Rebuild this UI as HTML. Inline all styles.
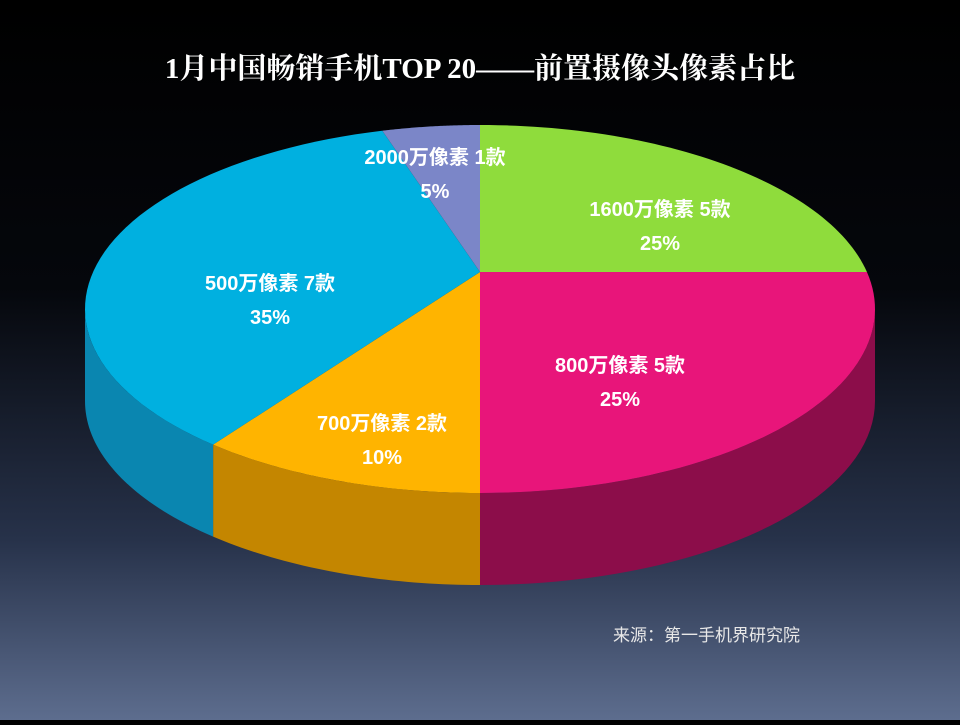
<!DOCTYPE html>
<html><head><meta charset="utf-8"><style>
body{margin:0;width:960px;height:720px;overflow:hidden;background:linear-gradient(#000 0%,#05070c 40%,#27324a 75%,#5d6d8e 100%);font-family:"Liberation Sans","Noto Sans CJK SC",sans-serif}
</style></head><body>
<svg id="c" width="960" height="720" xmlns="http://www.w3.org/2000/svg">
<text x="480" y="78" text-anchor="middle" fill="#fff" font-size="29" font-weight="bold" font-family="Liberation Serif, Noto Serif CJK SC, serif">1月中国畅销手机TOP 20——前置摄像头像素占比</text>
<g id="sides"></g><g id="tops"></g><g id="labels"></g>
<text x="613" y="641" fill="#e8e8e8" font-size="17">来源：第一手机界研究院</text>
</svg>
<script>
const categories=["1600万像素 5款","800万像素 5款","700万像素  2款","500万像素 7款","2000万像素 1款"];
const values=[25,25,10,35,5];
const pctLabels=["25%","25%","10%","35%","5%"];
const colors=["#8fdc3c","#e8157a","#ffb400","#00b0e0","#7b86c8"];
const sideColors=["#5f9a24","#8c0d4a","#c48600","#0a86b0","#4f5a96"];
const labelPos=[[660,216],[620,372],[382,430],[270,290],[435,164]];
const cx=480,cy=309,rx=395,ry=184,ax=480,ay=272,depth=92,k=0.47;
const ns="http://www.w3.org/2000/svg";
function R(phi){
  const dx=Math.cos(phi),dy=k*Math.sin(phi);
  const ox=(ax-cx)/rx,oy=(ay-cy)/ry,ux=dx/rx,uy=dy/ry;
  const A=ux*ux+uy*uy,B=2*(ox*ux+oy*uy),C=ox*ox+oy*oy-1;
  const s=(-B+Math.sqrt(B*B-4*A*C))/(2*A);
  return [ax+dx*s,ay+dy*s];
}
const E=t=>[cx+rx*Math.cos(t),cy+ry*Math.sin(t)];
const T=p=>Math.atan2((p[1]-cy)/ry,(p[0]-cx)/rx);
const total=values.reduce((a,b)=>a+b,0);
let a=-Math.PI/2;
const sides=document.getElementById('sides'),tops=document.getElementById('tops'),labs=document.getElementById('labels');
values.forEach((v,i)=>{
  const a0=a,a1=a+v/total*2*Math.PI;a=a1;
  let t0=T(R(a0)),t1=T(R(a1));
  if(t0<-Math.PI/2-1e-6)t0+=2*Math.PI; if(t1<t0)t1+=2*Math.PI;
  const s0=Math.max(t0,0),s1=Math.min(t1,Math.PI);
  if(s1>s0){
    let d="";const n=40;
    for(let j=0;j<=n;j++){const p=E(s0+(s1-s0)*j/n);d+=(j?"L":"M")+p[0]+","+p[1];}
    for(let j=n;j>=0;j--){const p=E(s0+(s1-s0)*j/n);d+="L"+p[0]+","+(p[1]+depth);}
    const pa=document.createElementNS(ns,'path');
    pa.setAttribute('d',d+"Z");pa.setAttribute('fill',sideColors[i]);
    
    
    sides.appendChild(pa);
  }
  let d="M"+ax+","+ay;const n=60;
  for(let j=0;j<=n;j++){const p=E(t0+(t1-t0)*j/n);d+="L"+p[0]+","+p[1];}
  const pt=document.createElementNS(ns,'path');
  pt.setAttribute('d',d+"Z");pt.setAttribute('fill',colors[i]);
  
  
  tops.appendChild(pt);
  const [lx,ly]=labelPos[i];
  const l1=document.createElementNS(ns,'text');
  l1.setAttribute('x',lx);l1.setAttribute('y',ly);l1.setAttribute('text-anchor','middle');
  l1.setAttribute('fill','#fff');l1.setAttribute('font-size','20');l1.setAttribute('font-weight','bold');
  l1.textContent=categories[i];
  
  
  labs.appendChild(l1);
  const l2=document.createElementNS(ns,'text');
  l2.setAttribute('x',lx);l2.setAttribute('y',ly+34);l2.setAttribute('text-anchor','middle');
  l2.setAttribute('fill','#fff');l2.setAttribute('font-size','20');l2.setAttribute('font-weight','bold');
  l2.textContent=pctLabels[i];
  
  
  labs.appendChild(l2);
});
</script>
</body></html>
